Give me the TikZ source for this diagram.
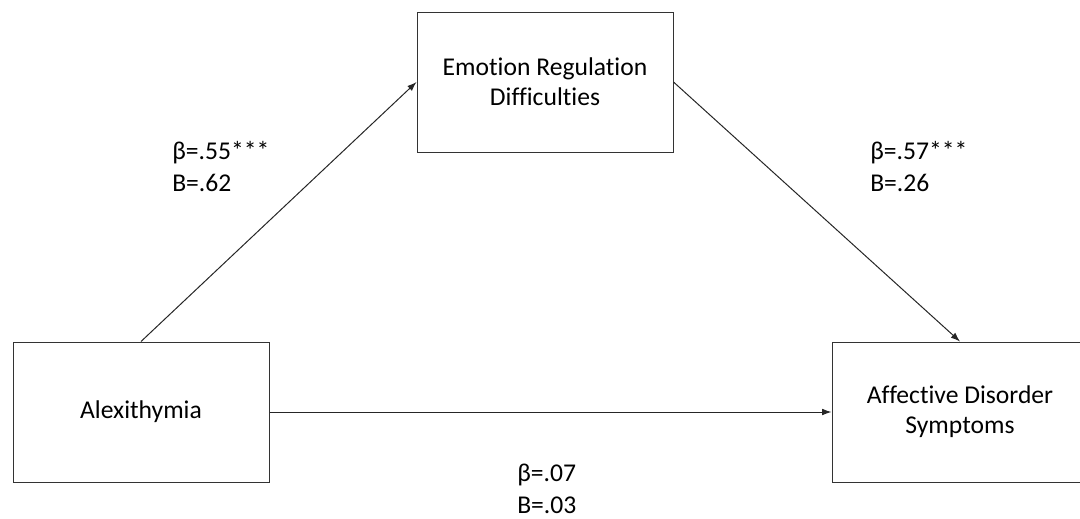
\documentclass[tikz,border=0pt]{standalone}
\usepackage{xcolor}
\usepackage{fontspec}
\setmainfont{Carlito}[Ligatures=NoCommon]
\usepackage{tikz}
\usetikzlibrary{arrows.meta}

\tikzset{
    caja/.style = {draw=black!80, line width=0.75pt, minimum width=192pt, minimum height=105pt, inner sep=0pt, align=center, font=\fontsize{19.2}{22.5}\selectfont},
    coef/.style = {anchor=west, align=left, inner sep=0pt, font=\fontsize{19.2}{24}\selectfont},
    flecha/.style = {draw=black!85, line width=0.75pt, -{Latex[length=7pt, width=5pt]}}
}

\begin{document}
\begin{tikzpicture}[x=0.75pt, y=-0.75pt]
            \useasboundingbox (0,0) rectangle (1080,518);
            \clip (0,0) rectangle (1080,518);
            % Cajas
            \node[caja] (alex) at (141,412) {Alexithymia};
            \node[caja] (reg) at (545,82) {Emotion Regulation\\Difficulties};
            \node[caja] (aff) at (960,412) {Affective Disorder\\Symptoms};
            % Flechas
            \draw[flecha] (alex.north) -- (reg.west);
            \draw[flecha] (reg.east) -- (aff.north);
            \draw[flecha] (alex.east) -- (aff.west);
            % Coeficientes
            \node[coef] (coefa) at (172,167) {β=.55***\\B=.62};
            \node[coef] (coefb) at (870,167) {β=.57***\\B=.26};
            \node[coef] (coefc) at (517,489) {β=.07\\B=.03};
       \end{tikzpicture}
\end{document}
